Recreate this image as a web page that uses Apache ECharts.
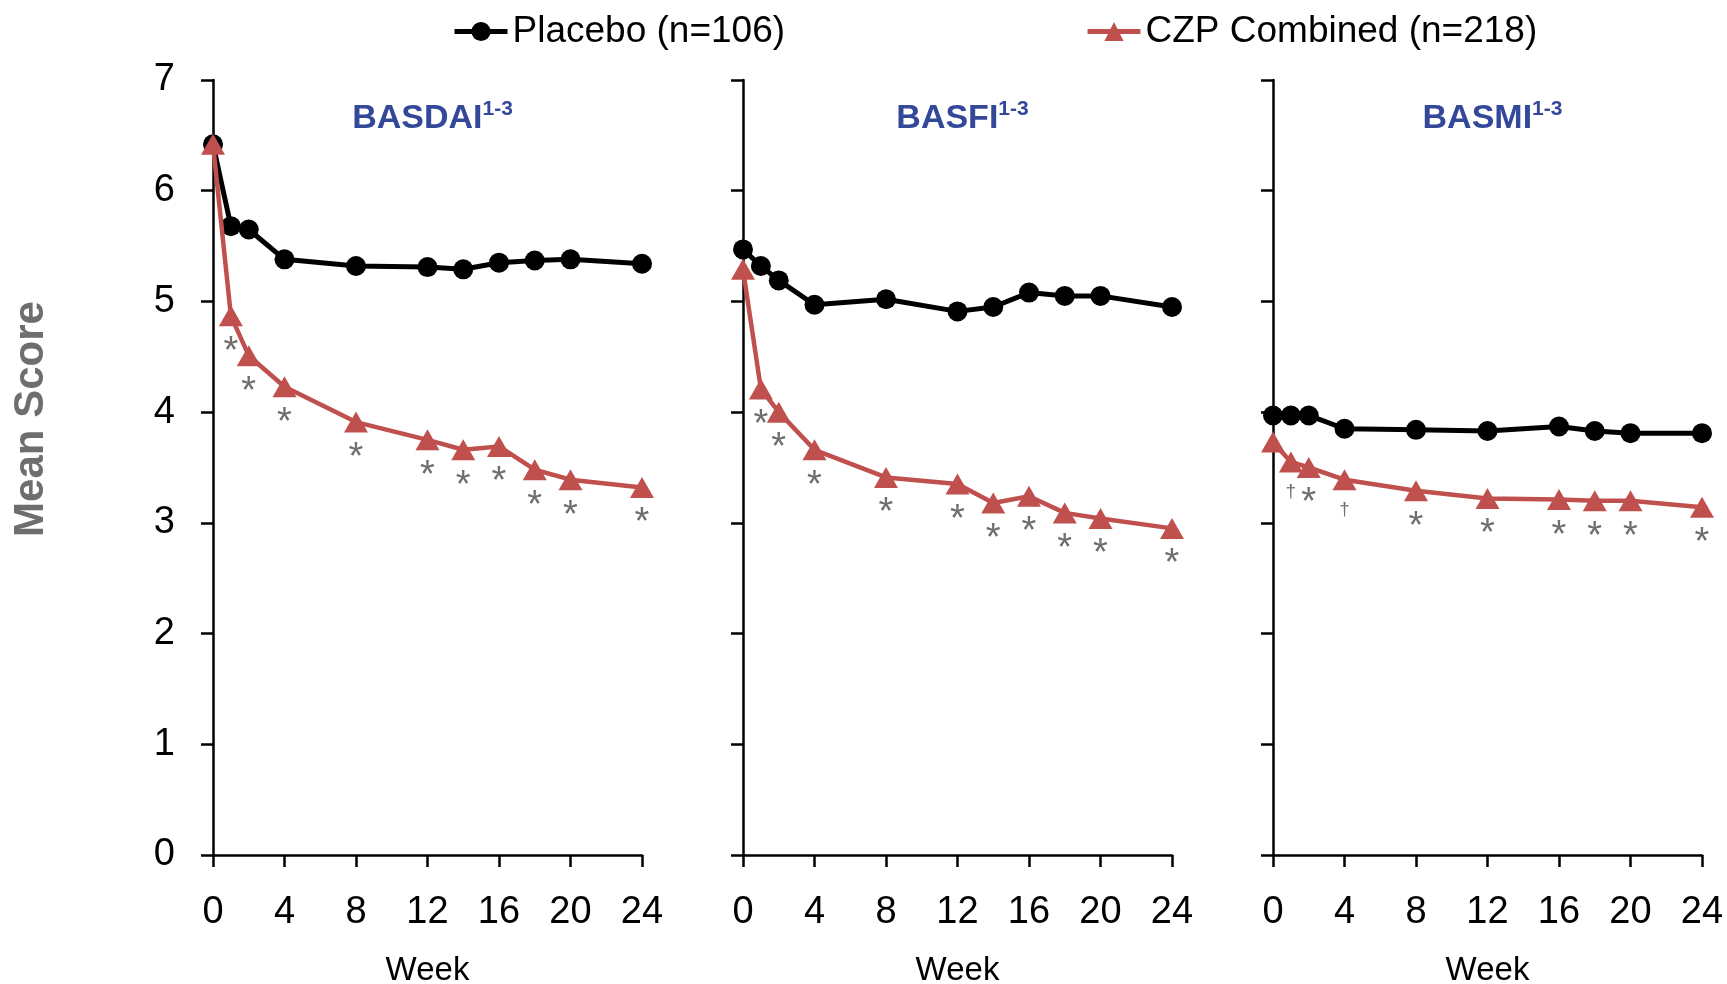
<!DOCTYPE html>
<html>
<head>
<meta charset="utf-8">
<title>Mean Score</title>
<script src="https://cdn.jsdelivr.net/npm/echarts@6/dist/echarts.min.js"></script>
<style>
html,body{margin:0;padding:0;background:#fff;}
#main{width:1727px;height:984px;}
</style>
</head>
<body>
<div id="main"></div>
<script>
/* data */
var weeks = [0, 1, 2, 4, 8, 12, 14, 16, 18, 20, 24];
var weeksBasmi = [0, 1, 2, 4, 8, 12, 16, 18, 20, 24];

var basdaiPlacebo = [6.42, 5.68, 5.65, 5.38, 5.32, 5.31, 5.29, 5.35, 5.37, 5.38, 5.34];
var basdaiCzp     = [6.42, 4.87, 4.51, 4.23, 3.91, 3.75, 3.66, 3.69, 3.48, 3.39, 3.32];
var basdaiMarks   = ['', '*', '*', '*', '*', '*', '*', '*', '*', '*', '*'];

var basfiPlacebo  = [5.47, 5.32, 5.19, 4.97, 5.02, 4.91, 4.95, 5.08, 5.05, 5.05, 4.95];
var basfiCzp      = [5.29, 4.21, 4.00, 3.66, 3.41, 3.35, 3.18, 3.24, 3.09, 3.04, 2.95];
var basfiMarks    = ['', '*', '*', '*', '*', '*', '*', '*', '*', '*', '*'];

var basmiPlacebo  = [3.97, 3.97, 3.97, 3.85, 3.84, 3.83, 3.87, 3.83, 3.81, 3.81];
var basmiCzp      = [3.73, 3.55, 3.50, 3.39, 3.29, 3.22, 3.21, 3.20, 3.20, 3.14];
var basmiMarks    = ['', '\u2020', '*', '\u2020', '*', '*', '*', '*', '*', '*'];

var panelTitles = ['BASDAI', 'BASFI', 'BASMI'];
var seriesNames = ['Placebo (n=106)', 'CZP Combined (n=218)'];
var xTicks = [0, 24, 4];   // min, max, interval
var yTicks = [0, 7, 1];

var panels = [
    {title: panelTitles[0], x: weeks, placebo: basdaiPlacebo, czp: basdaiCzp, marks: basdaiMarks},
    {title: panelTitles[1], x: weeks, placebo: basfiPlacebo, czp: basfiCzp, marks: basfiMarks},
    {title: panelTitles[2], x: weeksBasmi, placebo: basmiPlacebo, czp: basmiCzp, marks: basmiMarks}
];

var FONT = 'Liberation Sans, Arial, sans-serif';
var RED = '#C0504D';
var GREY = '#6e6e6e';
var lefts = [213, 743, 1273];
var W = 429;

function pairs(xs, ys) {
    return xs.map(function (x, i) { return [x, ys[i]]; });
}

var grid = [], xAxis = [], yAxis = [], series = [], title = [];

panels.forEach(function (p, i) {
    // outerBoundsMode none: keep the plot box where it is, Week label may touch the edge
    grid.push({left: lefts[i], top: 80, width: W, height: 775, outerBoundsMode: 'none'});

    xAxis.push({
        type: 'value', gridIndex: i,
        min: xTicks[0], max: xTicks[1], interval: xTicks[2],
        name: 'Week', nameLocation: 'middle', nameGap: 99,
        nameTextStyle: {fontFamily: FONT, fontSize: 33, color: '#000'},
        axisLine: {lineStyle: {color: '#000', width: 2.5}},
        axisTick: {show: true, length: 12, lineStyle: {color: '#000', width: 2.5}},
        axisLabel: {fontFamily: FONT, fontSize: 38, color: '#000', margin: 39},
        splitLine: {show: false}
    });

    yAxis.push({
        type: 'value', gridIndex: i,
        min: yTicks[0], max: yTicks[1], interval: yTicks[2],
        axisLine: {show: true, lineStyle: {color: '#000', width: 2.5}},
        axisTick: {show: true, length: 12, lineStyle: {color: '#000', width: 2.5}},
        axisLabel: {show: i === 0, fontFamily: FONT, fontSize: 38, color: '#000', margin: 38},
        splitLine: {show: false}
    });

    title.push({
        text: '{a|' + p.title + '}{b|1-3}',
        left: lefts[i] + W / 2, top: 94, textAlign: 'center',
        textStyle: {
            rich: {
                a: {fontFamily: FONT, fontSize: 34, fontWeight: 'bold', color: '#34489A', lineHeight: 40},
                b: {fontFamily: FONT, fontSize: 21, fontWeight: 'bold', color: '#34489A', lineHeight: 24, verticalAlign: 'top'}
            }
        }
    });

    series.push({
        name: seriesNames[0], type: 'line', xAxisIndex: i, yAxisIndex: i,
        data: pairs(p.x, p.placebo),
        symbol: 'circle', symbolSize: 20,
        lineStyle: {color: '#000', width: 5},
        itemStyle: {color: '#000'},
        z: 2
    });

    var marks = p.marks;
    series.push({
        name: seriesNames[1], type: 'line', xAxisIndex: i, yAxisIndex: i,
        data: pairs(p.x, p.czp),
        symbol: 'triangle', symbolSize: [24, 21],
        lineStyle: {color: RED, width: 4.5},
        itemStyle: {color: RED},
        z: 3,
        label: {
            show: true, position: 'bottom', distance: 7,
            formatter: function (d) {
                var m = marks[d.dataIndex];
                if (!m) return '';
                return m === '*' ? '{s|*}' : '{d|' + m + '}';
            },
            rich: {
                s: {fontFamily: FONT, fontSize: 38, color: GREY},
                d: {fontFamily: FONT, fontSize: 19, color: GREY, padding: [3, 0, 0, 0]}
            }
        }
    });
});

var legendText = {fontFamily: FONT, fontSize: 37, color: '#000'};

var myChart = echarts.init(document.getElementById('main'));
var option = {
    backgroundColor: '#fff',
    animation: false,
    title: title,
    legend: [
        {data: [seriesNames[0]], left: 452, top: 13, padding: 0, itemWidth: 53, itemHeight: 24,
         lineStyle: {width: 5}, textStyle: legendText},
        {data: [seriesNames[1]], left: 1085, top: 13, padding: 0, itemWidth: 53, itemHeight: 24,
         lineStyle: {width: 5}, textStyle: legendText}
    ],
    grid: grid,
    xAxis: xAxis,
    yAxis: yAxis,
    series: series,
    graphic: [{
        type: 'text', x: 31, y: 419, rotation: Math.PI / 2,
        style: {text: 'Mean Score', font: 'bold 42px ' + FONT, fill: GREY, textAlign: 'center', textVerticalAlign: 'middle'}
    }]
};
myChart.setOption(option);
</script>
</body>
</html>
